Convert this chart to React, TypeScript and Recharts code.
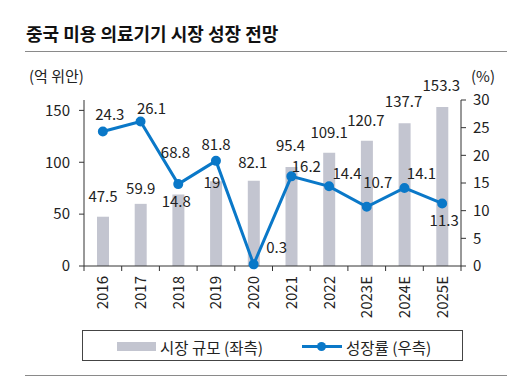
import React from "react";
import { Bar, ComposedChart, LabelList, Line, XAxis, YAxis } from "recharts";

// 중국 미용 의료기기 시장 규모 (억 위안) / 성장률 (%)
const years = ["2016", "2017", "2018", "2019", "2020", "2021", "2022", "2023E", "2024E", "2025E"];
const marketSize = [47.5, 59.9, 68.8, 81.8, 82.1, 95.4, 109.1, 120.7, 137.7, 153.3];
const growthRate = [24.3, 26.1, 14.8, 19, 0.3, 16.2, 14.4, 10.7, 14.1, 11.3];
const leftTicks = [0, 50, 100, 150];
const rightTicks = [0, 5, 10, 15, 20, 25, 30];

// label placement tweaks (layout only, not data)
const barLabelDy = [-21, -16, -43, -38, -19, -23, -21, -21, -23, -22];
const barLabelDx = [0, 0, -3, 0, -1, -1, 0, -1, -1, -1];
const lineLabelOffset: [number, number][] = [
  [7, -18], [11, -14], [-2, 16], [-4, 21], [23, -18],
  [15, -11], [18, -14], [11, -25], [17, -15], [2, 16],
];

const rows = years.map((year, i) => ({ year, size: marketSize[i], rate: growthRate[i] }));

const FONT = "'Noto Sans CJK KR', 'Noto Sans', sans-serif";
const TEXT = "#222";
const BAR = "#c3c5d0";
const LINE = "#0a78c8";

const PLOT_LEFT = 84;
const PLOT_RIGHT = 461;
const BAND = (PLOT_RIGHT - PLOT_LEFT) / years.length;

function YearTick(props: any) {
  const { x, payload, index } = props;
  const top = 266;
  const last = index === years.length - 1;
  return (
    <g>
      <line x1={x - BAND / 2} x2={x - BAND / 2} y1={top} y2={top + 5} stroke="#333" />
      {last && <line x1={x + BAND / 2} x2={x + BAND / 2} y1={top} y2={top + 5} stroke="#333" />}
      <text
        transform={`translate(${x - 1},${top + 10}) rotate(-90)`}
        textAnchor="end"
        dominantBaseline="central"
        fontSize={15}
        fill={TEXT}
        fontFamily={FONT}
      >
        {payload.value}
      </text>
    </g>
  );
}

function BarValue(props: any) {
  const { x, y, width, value, index } = props;
  return (
    <text
      x={x + width / 2 + barLabelDx[index]}
      y={y + barLabelDy[index]}
      textAnchor="middle"
      dominantBaseline="central"
      fontSize={15}
      fill={TEXT}
      fontFamily={FONT}
    >
      {value}
    </text>
  );
}

function RateValue(props: any) {
  const { x, y, value, index } = props;
  const [dx, dy] = lineLabelOffset[index];
  return (
    <text
      x={x + dx}
      y={y + dy}
      textAnchor="middle"
      dominantBaseline="central"
      fontSize={15}
      fill={TEXT}
      fontFamily={FONT}
    >
      {value}
    </text>
  );
}

export default function App() {
  return (
    <div style={{ position: "absolute", left: 0, top: 0, width: 528, height: 377, background: "#fff", fontFamily: FONT }}>
      <div style={{ position: "absolute", left: 26, top: 21, fontSize: 18, fontWeight: 700, color: "#111", lineHeight: "24px", whiteSpace: "nowrap" }}>
        중국 미용 의료기기 시장 성장 전망
      </div>
      <div style={{ position: "absolute", left: 25, top: 51, width: 482, height: 0, borderTop: "1.5px solid #8a8a8a" }} />
      <div style={{ position: "absolute", left: 29, top: 65, fontSize: 15, color: TEXT, lineHeight: "22px" }}>(억 위안)</div>
      <div style={{ position: "absolute", left: 471, top: 65, fontSize: 15, color: TEXT, lineHeight: "22px" }}>(%)</div>

      <div style={{ position: "absolute", left: 0, top: 0 }}>
        <ComposedChart
          width={528}
          height={330}
          data={rows}
          margin={{ top: 100, right: 27, bottom: 4, left: 40 }}
        >
          <XAxis
            dataKey="year"
            tick={<YearTick />}
            tickLine={false}
            interval={0}
            height={60}
            axisLine={{ stroke: "#333" }}
          />
          <YAxis
            yAxisId="left"
            domain={[0, 160]}
            ticks={leftTicks}
            width={44}
            tickSize={5}
            tickMargin={9}
            axisLine={{ stroke: "#333" }}
            tickLine={{ stroke: "#333" }}
            tick={{ fontSize: 15, fill: TEXT, fontFamily: FONT }}
          />
          <YAxis
            yAxisId="right"
            orientation="right"
            domain={[0, 30]}
            ticks={rightTicks}
            width={40}
            tickSize={5}
            tickMargin={7}
            axisLine={{ stroke: "#333" }}
            tickLine={{ stroke: "#333" }}
            tick={{ fontSize: 15, fill: TEXT, fontFamily: FONT }}
          />
          <Bar yAxisId="left" dataKey="size" fill={BAR} barSize={12} isAnimationActive={false}>
            <LabelList dataKey="size" content={<BarValue />} />
          </Bar>
          <Line
            yAxisId="right"
            dataKey="rate"
            stroke={LINE}
            strokeWidth={3}
            dot={{ r: 4, fill: LINE, stroke: LINE, strokeWidth: 2 }}
            isAnimationActive={false}
          >
            <LabelList dataKey="rate" content={<RateValue />} />
          </Line>
        </ComposedChart>
      </div>

      <div style={{ position: "absolute", left: 82, top: 330, width: 379, height: 29, border: "1.5px solid #444" }} />
      <div style={{ position: "absolute", left: 117, top: 342, width: 39, height: 9, background: BAR }} />
      <div style={{ position: "absolute", left: 160, top: 335, fontSize: 15.5, color: TEXT, lineHeight: "24px", whiteSpace: "nowrap" }}>
        시장 규모 (좌측)
      </div>
      <div style={{ position: "absolute", left: 302, top: 345, width: 40, height: 3, background: LINE }} />
      <div style={{ position: "absolute", left: 317, top: 342, width: 9, height: 9, borderRadius: "50%", background: LINE }} />
      <div style={{ position: "absolute", left: 346, top: 335, fontSize: 15.5, color: TEXT, lineHeight: "24px", whiteSpace: "nowrap" }}>
        성장률 (우측)
      </div>
      <div style={{ position: "absolute", left: 25, top: 375, width: 482, height: 0, borderTop: "1.5px solid #8a8a8a" }} />
    </div>
  );
}
